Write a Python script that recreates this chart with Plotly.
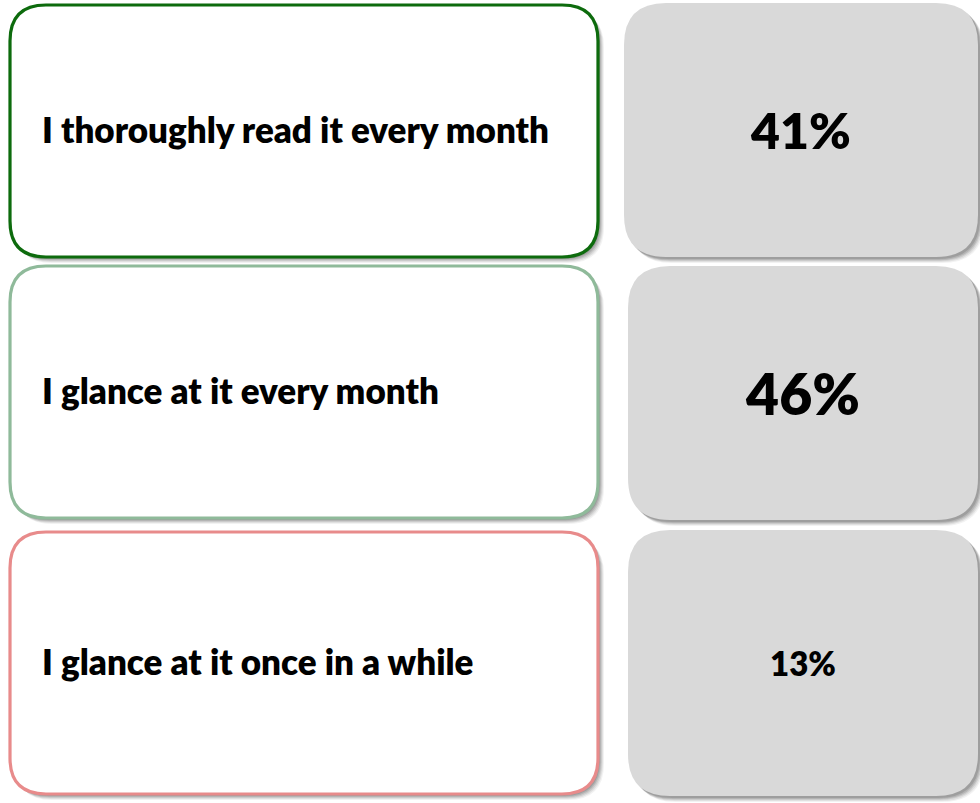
import plotly.graph_objects as go

# ---- data ----
categories = [
    "I thoroughly read it every month",
    "I glance at it every month",
    "I glance at it once in a while",
]
values = [41, 46, 13]
value_labels = ["41%", "46%", "13%"]
border_colors = ["#0d6b0d", "#8fba9a", "#e88b8b"]

# ---- layout constants (pixel space) ----
W, H = 980, 803
row_top = [5, 266, 532]
row_bot = [257, 518, 794]
left_x0, left_x1 = 10, 598
right_x0 = [624, 628, 628]
right_x1 = 978
right_top = [3, 266, 530]
right_bot = [257, 520, 796]
value_font_sizes = [50, 57, 33]
label_font_size = 35


def rounded_path(x0, y0, x1, y1, r):
    return (
        f"M {x0+r},{y0} L {x1-r},{y0} Q {x1},{y0} {x1},{y0+r} "
        f"L {x1},{y1-r} Q {x1},{y1} {x1-r},{y1} "
        f"L {x0+r},{y1} Q {x0},{y1} {x0},{y1-r} "
        f"L {x0},{y0+r} Q {x0},{y0} {x0+r},{y0} Z"
    )


shapes = []
for i, cat in enumerate(categories):
    for dx, op in [(6, 0.05), (5, 0.07), (4, 0.09), (3, 0.11), (2, 0.12)]:
        shapes.append(dict(type="path", xref="x", yref="y",
                           path=rounded_path(left_x0 + dx, row_top[i] + dx, left_x1 + dx, row_bot[i] + dx, 36),
                           fillcolor=f"rgba(0,0,0,{op})", line=dict(width=0), layer="below"))
        shapes.append(dict(type="path", xref="x", yref="y",
                           path=rounded_path(right_x0[i] + dx, right_top[i] + dx, right_x1 + dx, right_bot[i] + dx, 42),
                           fillcolor=f"rgba(0,0,0,{op})", line=dict(width=0), layer="below"))
    shapes.append(dict(type="path", xref="x", yref="y",
                       path=rounded_path(left_x0, row_top[i], left_x1, row_bot[i], 36),
                       fillcolor="white", line=dict(color=border_colors[i], width=3.2), layer="below"))
    shapes.append(dict(type="path", xref="x", yref="y",
                       path=rounded_path(right_x0[i], right_top[i], right_x1, right_bot[i], 42),
                       fillcolor="#d9d9d9", line=dict(width=0), layer="below"))

fig = go.Figure()
fig.add_trace(go.Scatter(
    x=[42] * len(categories),
    y=[(t + b) / 2 + 0.1 * label_font_size for t, b in zip(row_top, row_bot)],
    mode="text", text=categories,
    textposition="middle right",
    textfont=dict(family="Lato, Open Sans, sans-serif", size=label_font_size,
                  color="black", weight=800),
    hoverinfo="skip", showlegend=False,
))
fig.add_trace(go.Scatter(
    x=[(x0 + right_x1) / 2 for x0 in right_x0],
    y=[(t + b) / 2 + 0.13 * s for t, b, s in zip(right_top, right_bot, value_font_sizes)],
    mode="text", text=value_labels,
    textposition="middle center",
    textfont=dict(family="Lato, Open Sans, sans-serif", size=value_font_sizes,
                  color="black", weight=800),
    customdata=values,
    hoverinfo="skip", showlegend=False,
))

fig.update_layout(
    width=W, height=H,
    margin=dict(l=0, r=0, t=0, b=0),
    paper_bgcolor="white", plot_bgcolor="white",
    xaxis=dict(range=[0, W], visible=False, fixedrange=True),
    yaxis=dict(range=[H, 0], visible=False, fixedrange=True),
    shapes=shapes,
)
fig.write_html(
    "out.html",
    config={"displayModeBar": False},
    post_script="document.body.style.margin='0';document.body.style.overflow='hidden';",
)
